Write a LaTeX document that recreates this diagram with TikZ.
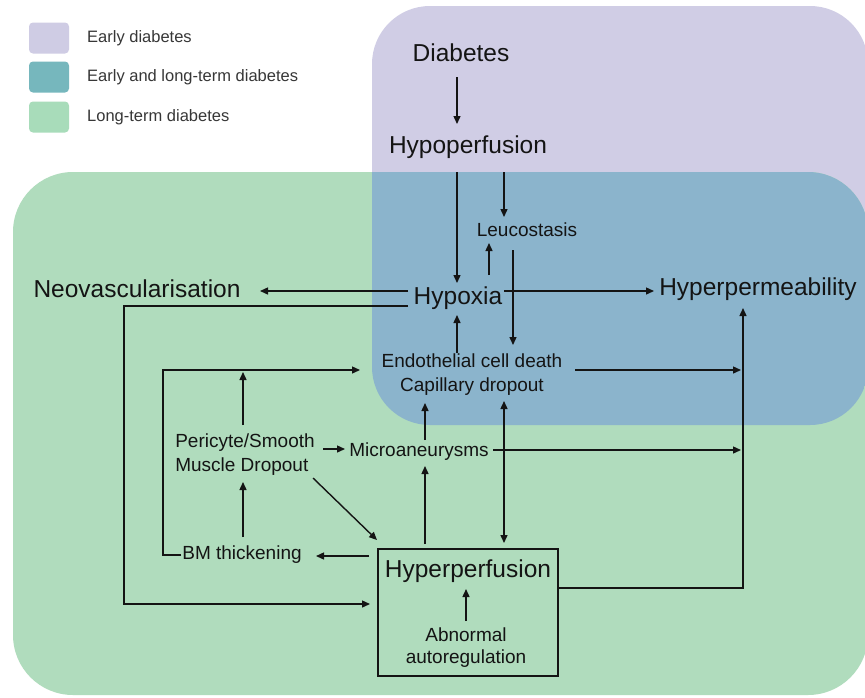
\documentclass[tikz,border=0pt]{standalone}
\usepackage{fontspec}
\setmainfont{Liberation Sans}
\usetikzlibrary{arrows.meta}
\definecolor{purp}{HTML}{D0CDE5}
\definecolor{bluereg}{HTML}{8BB4CC}
\definecolor{greenreg}{HTML}{B0DCBD}
\definecolor{legpurp}{HTML}{CFCCE4}
\definecolor{legteal}{HTML}{76B7BD}
\definecolor{leggreen}{HTML}{A8DCBA}
\definecolor{ink}{HTML}{141414}
\begin{document}
\begin{tikzpicture}[x=1pt,y=-1pt,
  tip/.tip={Triangle[length=8pt,width=7pt]},
  arr/.style={line width=1.4pt,-tip,draw=ink},
  big/.style={font=\fontsize{24.5}{28}\selectfont,inner sep=0pt,text=ink},
  mid/.style={font=\fontsize{19}{24}\selectfont,inner sep=0pt,align=center,text=ink},
  leg/.style={font=\fontsize{16.5}{19}\selectfont,inner sep=0pt,anchor=west,text=ink!85},
  legbox/.style={rounded corners=4pt,minimum width=40pt,minimum height=31pt,inner sep=0pt}]
\useasboundingbox (0,0) rectangle (865,697);
\fill[white] (0,0) rectangle (865,697);
% regions
\fill[purp,rounded corners=58pt] (372,6) rectangle (868,425);
\fill[greenreg,rounded corners=60pt] (13,172) rectangle (868,695);
\begin{scope}
  \clip[rounded corners=58pt] (372,6) rectangle (868,425);
  \fill[bluereg,rounded corners=60pt] (13,172) rectangle (868,695);
\end{scope}
% legend
\node[legbox,fill=legpurp] (lp) at (49,38) {};
\node[legbox,fill=legteal] (lt) at (49,77) {};
\node[legbox,fill=leggreen] (lg) at (49,117) {};
\node[leg] (lpt) at (87,38) {Early diabetes};
\node[leg] (ltt) at (87,77) {Early and long-term diabetes};
\node[leg] (lgt) at (87,117) {Long-term diabetes};
% nodes
\node[big] (diab) at (461,53) {Diabetes};
\node[big] (hypo) at (468,147) {Hypoperfusion};
\node[mid] (leuco) at (527,230) {Leucostasis};
\node[big] (neo) at (137,289) {Neovascularisation};
\node[big] (hypox) at (458,298) {Hypoxia};
\node[big] (hyperm) at (758,289) {Hyperpermeability};
\node[mid] (endo) at (472,375) {Endothelial cell death\\Capillary dropout};
\node[mid,align=left] (peri) at (245,455) {Pericyte/Smooth\\Muscle Dropout};
\node[mid] (micro) at (419,452) {Microaneurysms};
\node[mid] (bm) at (242,555) {BM thickening};
\node[draw=ink,line width=1.4pt,minimum width=180pt,minimum height=127pt,inner sep=0pt] (box) at (468,612.5) {};
\node[big] (hyperf) at (468,571) {Hyperperfusion};
\node[mid,font=\fontsize{19}{22}\selectfont] (abn) at (466,648) {Abnormal\\autoregulation};
% connectors
\draw[arr] (457,77) -- (457,124);
\draw[arr] (457,172) -- (457,283);
\draw[arr] (504,172) -- (504,217);
\draw[arr] (489,275) -- (489,243);
\draw[arr] (513,250) -- (513,345);
\draw[arr] (504,291) -- (654,291);
\draw[arr] (408,291) -- (260,291);
\draw[arr] (408,306) -- (124,306) -- (124,604) -- (370,604);
\draw[arr] (457,353) -- (457,315);
\draw[arr] (575,370) -- (741,370);
\draw[arr] (558,588) -- (743,588) -- (743,308);
\draw[arr] (493,450) -- (741,450);
\draw[arr] (425,440) -- (425,403);
\draw[arr] (425,544) -- (425,466);
\draw[arr,tip-tip] (504,401) -- (504,543);
\draw[arr] (323,449) -- (345,449);
\draw[arr] (243,425) -- (243,372);
\draw[arr] (181,555) -- (163,555) -- (163,370) -- (360,370);
\draw[arr] (243,537) -- (243,482);
\draw[arr] (313,478) -- (377,540);
\draw[arr] (369,556) -- (316,556);
\draw[arr] (466,621) -- (466,589);
\end{tikzpicture}
\end{document}
